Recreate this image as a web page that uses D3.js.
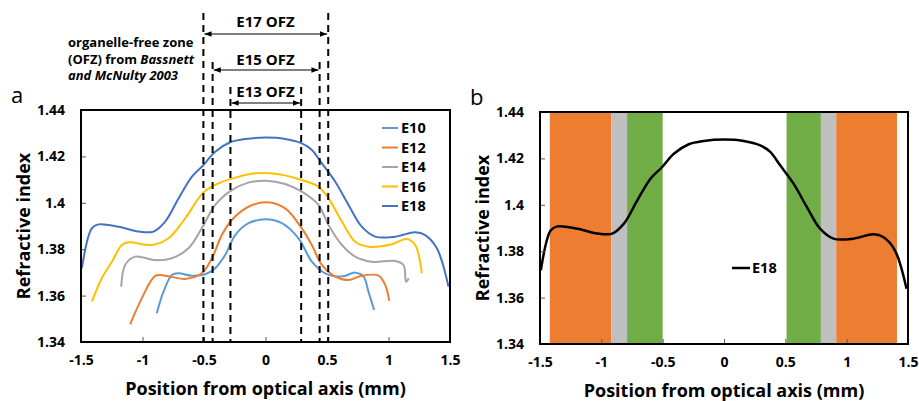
<!DOCTYPE html>
<html>
<head>
<meta charset="utf-8">
<script src="https://cdn.jsdelivr.net/npm/d3@7"></script>
<style>
    body { margin: 0; background: #fff; }
    svg text { font-family: "Open Sans", sans-serif; font-weight: bold; fill: #000; }
</style>
</head>
<body>
<div id="js-svg-container"></div>
<script>
// refractive index profiles, [position mm, index]
let e10 = [[-0.884,1.3524],[-0.829,1.3617],[-0.761,1.3689],[-0.707,1.3696],[-0.598,1.3686],[-0.49,1.3692],[-0.409,1.3718],[-0.328,1.3775],[-0.246,1.3861],[-0.138,1.3912],[0,1.3929],[0.133,1.3912],[0.268,1.3847],[0.377,1.3746],[0.485,1.3696],[0.621,1.3682],[0.729,1.3699],[0.797,1.3682],[0.837,1.3617],[0.883,1.3538]];
let e12 = [[-1.1,1.3476],[-1.006,1.3588],[-0.896,1.3685],[-0.816,1.3686],[-0.653,1.3672],[-0.518,1.3696],[-0.436,1.3761],[-0.355,1.3861],[-0.274,1.3926],[-0.138,1.3983],[0.011,1.4002],[0.16,1.3976],[0.295,1.389],[0.377,1.3818],[0.458,1.3732],[0.567,1.3682],[0.675,1.3667],[0.783,1.3686],[0.919,1.3686],[0.973,1.3646],[1.006,1.3577]];
let e14 = [[-1.173,1.3638],[-1.141,1.3732],[-1.06,1.3768],[-0.896,1.3753],[-0.761,1.3761],[-0.626,1.3804],[-0.518,1.389],[-0.409,1.3991],[-0.274,1.4055],[-0.138,1.4087],[0,1.4095],[0.16,1.4081],[0.295,1.4048],[0.431,1.3991],[0.512,1.3904],[0.621,1.3818],[0.729,1.3768],[0.864,1.3746],[1.054,1.3749],[1.122,1.3732],[1.143,1.366],[1.165,1.3675]];
let e16 = [[-1.412,1.3574],[-1.331,1.3675],[-1.249,1.3746],[-1.168,1.3818],[-1.114,1.383],[-0.924,1.3818],[-0.789,1.3847],[-0.653,1.3933],[-0.504,1.4045],[-0.382,1.4084],[-0.246,1.4108],[-0.084,1.4127],[0.106,1.4123],[0.295,1.4098],[0.431,1.4069],[0.512,1.4019],[0.621,1.3919],[0.729,1.3832],[0.837,1.3811],[1.027,1.3821],[1.149,1.3844],[1.217,1.3818],[1.271,1.3696]];
let e18 = [[-1.493,1.3718],[-1.412,1.389],[-1.358,1.3907],[-1.195,1.3897],[-1.033,1.3876],[-0.911,1.3876],[-0.816,1.3919],[-0.707,1.4019],[-0.598,1.4113],[-0.504,1.4163],[-0.409,1.422],[-0.287,1.4261],[-0.165,1.4275],[0,1.4281],[0.16,1.4275],[0.295,1.4256],[0.377,1.4228],[0.458,1.417],[0.567,1.4091],[0.675,1.3991],[0.783,1.3897],[0.892,1.3854],[1.054,1.3854],[1.217,1.3873],[1.298,1.3861],[1.393,1.3804],[1.488,1.3638]];

let seriesNames = ['E10', 'E12', 'E14', 'E16', 'E18'];
let seriesData = [e10, e12, e14, e16, e18];

let xTicks = [-1.5, -1, -0.5, 0, 0.5, 1, 1.5];
let xTickLabels = ['-1.5', '-1', '-0.5', '0', '0.5', '1', '1.5'];
let yTicks = [1.34, 1.36, 1.38, 1.40, 1.42, 1.44];
let yTickLabels = ['1.34', '1.36', '1.38', '1.4', '1.42', '1.44'];

// organelle-free zones (Bassnett and McNulty 2003)
let ofzLabels = ['E17 OFZ', 'E15 OFZ', 'E13 OFZ'];
let ofzLow = [-0.505, -0.43, -0.285];
let ofzHigh = [0.51, 0.44, 0.29];

// lens regions shaded in panel b
let bandStart = [-1.42, -0.92, -0.79, 0.51, 0.79, 0.915];
let bandEnd = [-0.92, -0.79, -0.50, 0.79, 0.915, 1.41];
let bandKind = ['outer', 'mid', 'inner', 'inner', 'mid', 'outer'];

let colors = {
    E10: '#5B9BD5',
    E12: '#ED7D31',
    E14: '#A5A5A5',
    E16: '#FFC000',
    E18: '#4472C4'
};
let bandColors = { outer: '#ED7D31', mid: '#BFBFBF', inner: '#70AD47' };

document.addEventListener('DOMContentLoaded', function() {

    let svg = d3.select('#js-svg-container')
        .append('svg')
        .attr('width', 919)
        .attr('height', 401);

    let line = (x, y) => d3.line()
        .x(d => x(d[0]))
        .y(d => y(d[1]))
        .curve(d3.curveCatmullRom.alpha(0.5));

    function panel(left, top, width, height, letter) {
        let x = d3.scaleLinear().domain([-1.5, 1.5]).range([left, left + width]);
        let y = d3.scaleLinear().domain([1.34, 1.44]).range([top + height, top]);
        let g = svg.append('g');

        g.append('text')
            .attr('x', left - 70)
            .attr('y', top - 7)
            .style('font-size', '22px')
            .style('font-weight', 'normal')
            .text(letter);

        g.append('text')
            .attr('transform', 'translate(' + (left - 57) + ',' + (top + height / 2) + ') rotate(-90)')
            .attr('text-anchor', 'middle')
            .attr('dy', '0.35em')
            .style('font-size', '18px')
            .text('Refractive index');

        g.append('text')
            .attr('x', left + width / 2)
            .attr('y', top + height + 53)
            .attr('text-anchor', 'middle')
            .style('font-size', '18px')
            .text('Position from optical axis (mm)');

        return { x: x, y: y, g: g, left: left, top: top, width: width, height: height };
    }

    function frame(p) {
        let axisX = p.g.append('g')
            .attr('transform', 'translate(0,' + (p.top + p.height) + ')')
            .call(d3.axisBottom(p.x)
                .tickValues(xTicks)
                .tickFormat((d, i) => xTickLabels[i])
                .tickSizeInner(-5)
                .tickSizeOuter(0)
                .tickPadding(13));
        let axisY = p.g.append('g')
            .attr('transform', 'translate(' + p.left + ',0)')
            .call(d3.axisLeft(p.y)
                .tickValues(yTicks)
                .tickFormat((d, i) => yTickLabels[i])
                .tickSizeInner(-5)
                .tickSizeOuter(0)
                .tickPadding(16));
        [axisX, axisY].forEach(a => {
            a.select('.domain').remove();
            a.attr('font-family', null).attr('font-size', null);
            a.selectAll('text').style('font-size', '14px');
            a.selectAll('line').attr('stroke', '#595959');
        });

        p.g.append('rect')
            .attr('x', p.left)
            .attr('y', p.top)
            .attr('width', p.width)
            .attr('height', p.height)
            .attr('fill', 'none')
            .attr('stroke', '#000')
            .attr('stroke-width', 2);
    }

    // ---- panel a ----
    let a = panel(81, 110, 369, 232, 'a');

    a.g.selectAll('path.series')
        .data(seriesData)
        .enter()
        .append('path')
        .attr('class', 'series')
        .attr('d', line(a.x, a.y))
        .attr('fill', 'none')
        .attr('stroke', (d, i) => colors[seriesNames[i]])
        .attr('stroke-width', 2);

    frame(a);

    let legend = a.g.selectAll('g.legend')
        .data(seriesNames)
        .enter()
        .append('g')
        .attr('class', 'legend')
        .attr('transform', (d, i) => 'translate(382,' + (128 + i * 19.5) + ')');
    legend.append('line')
        .attr('x2', 16)
        .attr('stroke', d => colors[d])
        .attr('stroke-width', 2);
    legend.append('text')
        .attr('x', 19)
        .attr('dy', '0.36em')
        .style('font-size', '14.5px')
        .text(d => d);

    // OFZ dashed boundaries and arrows
    let ofzTop = [13, 62, 87];
    let arrowY = [34, 70, 103];
    let labelY = [27, 65, 97];

    svg.append('defs').append('marker')
        .attr('id', 'head')
        .attr('viewBox', '0 -4 8 8')
        .attr('refX', 8)
        .attr('markerWidth', 6)
        .attr('markerHeight', 6)
        .attr('orient', 'auto-start-reverse')
        .append('path')
        .attr('d', 'M0,-3L8,0L0,3Z')
        .attr('fill', '#000');

    ofzLabels.forEach((label, i) => {
        [ofzLow[i], ofzHigh[i]].forEach(v => {
            a.g.append('line')
                .attr('x1', a.x(v)).attr('x2', a.x(v))
                .attr('y1', ofzTop[i]).attr('y2', a.y(1.34))
                .attr('stroke', '#000')
                .attr('stroke-width', 2)
                .attr('stroke-dasharray', '7,5');
        });
        a.g.append('line')
            .attr('x1', a.x(ofzLow[i]) + 1).attr('x2', a.x(ofzHigh[i]) - 1)
            .attr('y1', arrowY[i]).attr('y2', arrowY[i])
            .attr('stroke', '#000')
            .attr('stroke-width', 1.2)
            .attr('marker-start', 'url(#head)')
            .attr('marker-end', 'url(#head)');
        a.g.append('text')
            .attr('x', a.x(0))
            .attr('y', labelY[i])
            .attr('text-anchor', 'middle')
            .style('font-size', '15px')
            .text(label);
    });

    // source note, one text per line
    let noteLines = [
        [['organelle-free zone', 'normal']],
        [['(OFZ) from ', 'normal'], ['Bassnett', 'italic']],
        [['and McNulty 2003', 'italic']]
    ];
    noteLines.forEach((parts, i) => {
        let t = a.g.append('text')
            .attr('x', 68)
            .attr('y', 47 + i * 16.5)
            .style('font-size', '13px');
        parts.forEach(p => {
            t.append('tspan').style('font-style', p[1]).text(p[0]);
        });
    });

    // ---- panel b ----
    let b = panel(540, 112, 368, 232, 'b');

    b.g.selectAll('rect.band')
        .data(bandStart)
        .enter()
        .append('rect')
        .attr('class', 'band')
        .attr('x', d => b.x(d))
        .attr('y', b.y(1.44))
        .attr('width', (d, i) => b.x(bandEnd[i]) - b.x(d))
        .attr('height', b.y(1.34) - b.y(1.44))
        .attr('fill', (d, i) => bandColors[bandKind[i]]);

    b.g.append('path')
        .datum(e18)
        .attr('d', line(b.x, b.y))
        .attr('fill', 'none')
        .attr('stroke', '#000')
        .attr('stroke-width', 2.5);

    frame(b);

    let lb = b.g.append('g').attr('transform', 'translate(732,268)');
    lb.append('line').attr('x2', 18).attr('stroke', '#000').attr('stroke-width', 2.5);
    lb.append('text').attr('x', 20).attr('dy', '0.36em').style('font-size', '14.5px').text('E18');
});
</script>
</body>
</html>
